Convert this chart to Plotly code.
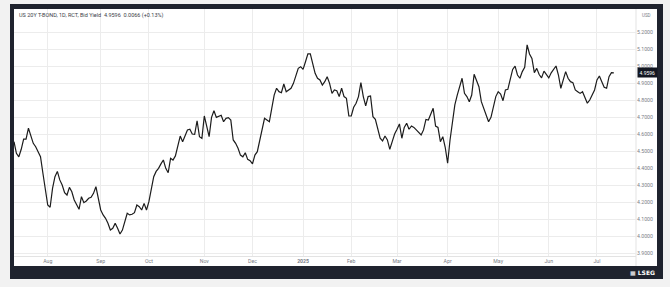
import plotly.graph_objects as go
import pandas as pd

# ---------------- data ----------------
HOLIDAYS = ['2024-09-02', '2024-11-28', '2024-12-25', '2025-01-01', '2025-01-09',
            '2025-01-20', '2025-02-17', '2025-04-18', '2025-05-26', '2025-06-19',
            '2025-07-04']

yield_jul_oct24 = [4.555, 4.486, 4.466, 4.51, 4.57, 4.57, 4.634, 4.594, 4.545, 4.525,
                   4.496, 4.466, 4.369, 4.27, 4.182, 4.169, 4.28, 4.349, 4.38, 4.33,
                   4.30, 4.255, 4.241, 4.286, 4.26, 4.212, 4.182, 4.157, 4.231, 4.196,
                   4.206, 4.222, 4.228, 4.251, 4.29, 4.222, 4.153, 4.124, 4.104, 4.075,
                   4.035, 4.045, 4.075, 4.045, 4.012, 4.035, 4.084, 4.134, 4.124, 4.128,
                   4.137, 4.182, 4.172, 4.153, 4.192, 4.153, 4.202, 4.27, 4.349, 4.38]

yield_oct24_feb25 = [4.398, 4.424, 4.447, 4.398, 4.372, 4.457, 4.447, 4.471, 4.529, 4.588,
                     4.555, 4.594, 4.624, 4.628, 4.6, 4.598, 4.678, 4.584, 4.574, 4.706,
                     4.653, 4.584, 4.698, 4.737, 4.698, 4.706, 4.71, 4.672, 4.692, 4.696,
                     4.682, 4.565, 4.545, 4.516, 4.476, 4.466, 4.49, 4.451, 4.443, 4.424,
                     4.476, 4.496, 4.565, 4.624, 4.692, 4.682, 4.672, 4.751, 4.829, 4.869,
                     4.849, 4.843, 4.894, 4.849, 4.859, 4.869, 4.898, 4.937, 4.986, 4.996,
                     4.98, 5.025, 5.071, 5.071, 5.016, 4.957, 4.928, 4.918, 4.888, 4.908,
                     4.937, 4.898, 4.839, 4.859, 4.855, 4.82, 4.869, 4.82]

yield_feb_may25 = [4.81, 4.706, 4.706, 4.757, 4.781, 4.82, 4.902, 4.82, 4.765, 4.82,
                   4.824, 4.702, 4.686, 4.624, 4.575, 4.559, 4.588, 4.565, 4.51, 4.555,
                   4.6, 4.628, 4.659, 4.575, 4.639, 4.663, 4.628, 4.647, 4.639, 4.624,
                   4.608, 4.594, 4.624, 4.686, 4.682, 4.712, 4.751, 4.647, 4.639, 4.555,
                   4.584, 4.522, 4.428, 4.565, 4.682, 4.771, 4.829, 4.878, 4.928, 4.839,
                   4.82, 4.79, 4.829, 4.951, 4.918, 4.878, 4.79, 4.751, 4.712, 4.672,
                   4.698, 4.751, 4.82, 4.849, 4.835, 4.796, 4.859, 4.863, 4.928, 4.98,
                   4.999, 4.947, 4.928, 4.967, 4.992, 5.124, 5.071, 5.045, 4.961, 4.986]

yield_jun_jul25 = [4.95, 4.93, 4.97, 4.95, 4.93, 4.96, 4.98,
                   5.0, 4.947, 4.869, 4.918, 4.967, 4.928, 4.908, 4.902, 4.859, 4.849,
                   4.839, 4.849, 4.81, 4.781, 4.8, 4.829, 4.859, 4.918, 4.941, 4.908,
                   4.875, 4.869, 4.937, 4.961, 4.9596]

values = yield_jul_oct24 + yield_oct24_feb25 + yield_feb_may25 + yield_jun_jul25
dates = pd.bdate_range(start='2024-07-12', periods=len(values), freq='C',
                       holidays=HOLIDAYS).strftime('%Y-%m-%d').tolist()

month_ticks = ['2024-08-01', '2024-09-03', '2024-10-01', '2024-11-01', '2024-12-02',
               '2025-01-02', '2025-02-03', '2025-03-03', '2025-04-01', '2025-05-01',
               '2025-06-02', '2025-07-01']
month_labels = ['Aug', 'Sep', 'Oct', 'Nov', 'Dec', '<b>2025</b>', 'Feb', 'Mar', 'Apr',
                'May', 'Jun', 'Jul']
y_ticks = [3.9, 4.0, 4.1, 4.2, 4.3, 4.4, 4.5, 4.6, 4.7, 4.8, 4.9, 5.0, 5.1, 5.2]
last_value = 4.9596
title_text = 'US 20Y T-BOND, 1D, RCT, Bid Yield  4.9596  0.0066 (+0.13%)'

# ---------------- layout geometry (pixels) ----------------
W, H = 670, 287
PL, PR, PT, PB = 14, 636, 9, 256


def fx(x):
    return (x - PL) / (PR - PL)


def fy(y):
    return (PB - y) / (PB - PT)


GRID = '#ececec'
TXT = '#7a7d86'
FONT = 'Roboto'

fig = go.Figure()
fig.add_trace(go.Scatter(x=dates, y=values, mode='lines',
                         line=dict(color='#1c1c1c', width=1.2),
                         hoverinfo='skip', showlegend=False))

shapes = [
    dict(type='rect', xref='paper', yref='paper', layer='below',
         x0=fx(10), x1=fx(663), y0=fy(279), y1=fy(4),
         fillcolor='#1f232e', line=dict(width=0)),
    dict(type='rect', xref='paper', yref='paper', layer='below',
         x0=fx(14), x1=fx(657), y0=fy(266), y1=fy(9),
         fillcolor='#ffffff', line=dict(width=0)),
    dict(type='line', xref='paper', yref='paper', layer='below',
         x0=fx(PR), x1=fx(PR), y0=fy(266), y1=fy(9),
         line=dict(color='#e3e3e3', width=1)),
]

annotations = [
    dict(text=title_text, xref='paper', yref='paper', x=fx(17), y=fy(15),
         xanchor='left', yanchor='middle', showarrow=False,
         font=dict(family=FONT, size=5.5, color='#3b3e48')),
    dict(text='USD', xref='paper', yref='paper', x=fx(646.5), y=fy(15),
         xanchor='center', yanchor='middle', showarrow=False,
         font=dict(family=FONT, size=4.5, color=TXT)),
    dict(text=f'{last_value:.4f}', xref='paper', yref='y', x=1, y=last_value,
         xanchor='left', yanchor='middle', xshift=1, showarrow=False,
         bgcolor='#131722', borderpad=1.5,
         font=dict(family=FONT, size=5, color='#ffffff')),
    dict(text='<b>▦ LSEG</b>', xref='paper', yref='paper', x=fx(657), y=fy(272.5),
         xanchor='right', yanchor='middle', showarrow=False,
         font=dict(family='DejaVu Sans', size=6, color='#ffffff')),
]

fig.update_layout(
    width=W, height=H,
    margin=dict(l=PL, r=W - PR, t=PT, b=H - PB),
    paper_bgcolor='#f2f2f2', plot_bgcolor='#ffffff',
    shapes=shapes, annotations=annotations,
    xaxis=dict(type='category', range=[0, 258.2],
               tickvals=month_ticks, ticktext=month_labels,
               showgrid=True, gridcolor=GRID, gridwidth=1,
               showline=True, linecolor='#e3e3e3', linewidth=1,
               ticks='', zeroline=False,
               tickfont=dict(family=FONT, size=5.2, color=TXT)),
    yaxis=dict(side='right', range=[3.88235, 5.33529],
               tickvals=y_ticks, tickformat='.4f',
               showgrid=True, gridcolor=GRID, gridwidth=1,
               showline=False, ticks='', zeroline=False,
               tickfont=dict(family=FONT, size=5.2, color=TXT)),
)

fig.write_html('out.html')
